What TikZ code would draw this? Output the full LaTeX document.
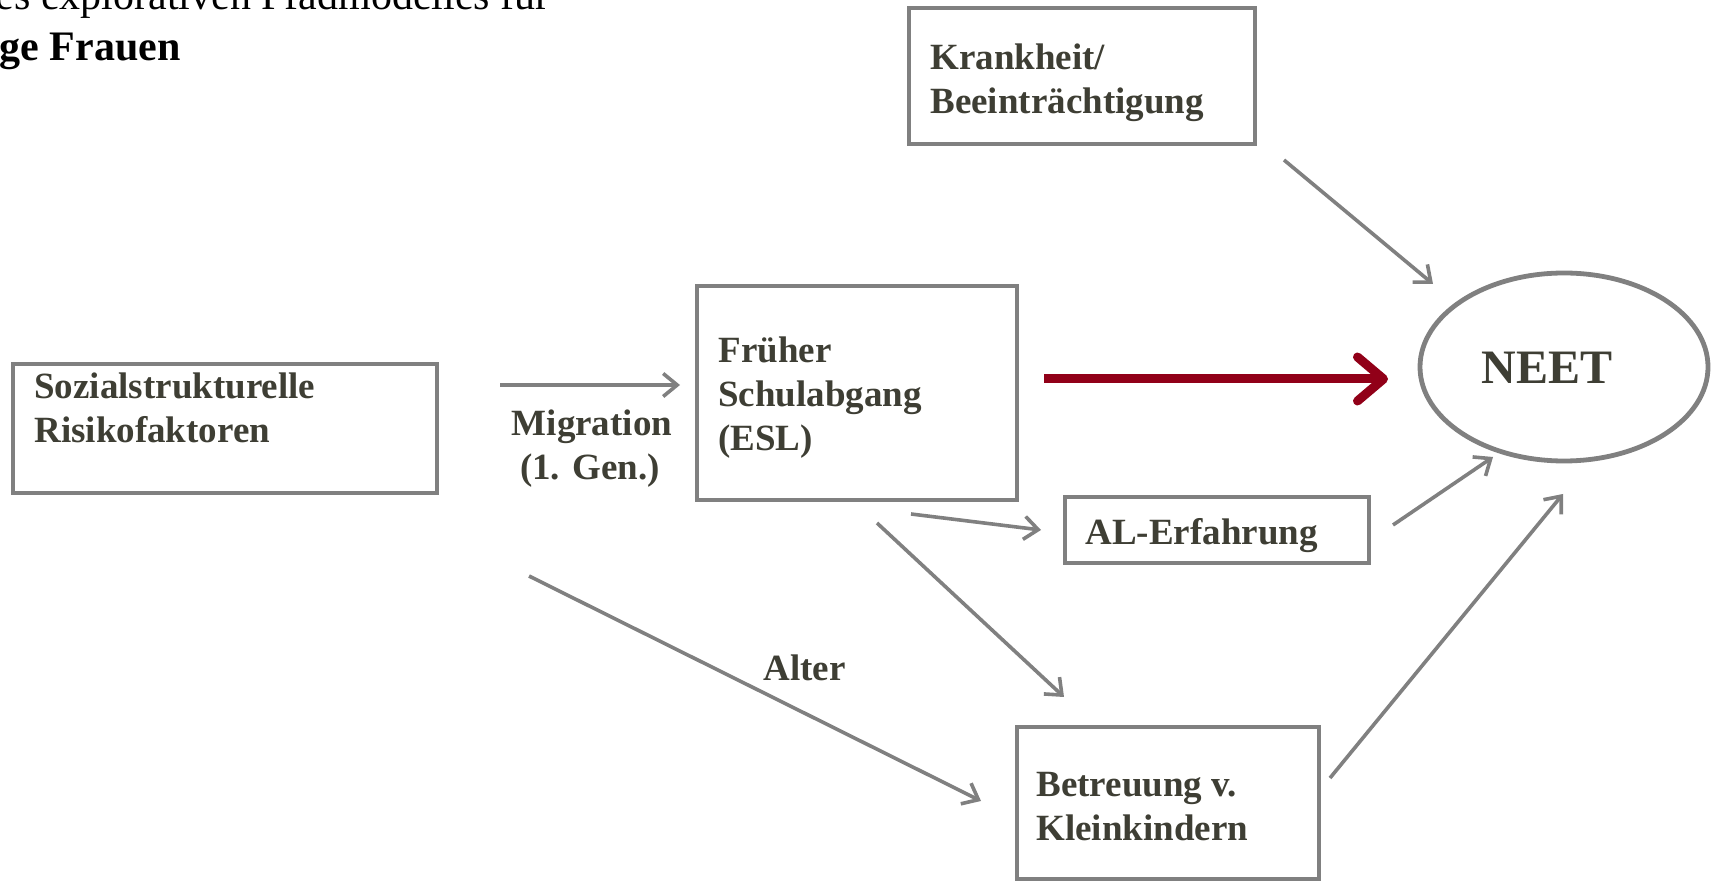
\documentclass[tikz,border=0pt]{standalone}
\usepackage{fontspec}
\setmainfont{Liberation Serif}
\usetikzlibrary{arrows.meta,shapes.geometric}
\definecolor{boxgray}{RGB}{128,128,128}
\definecolor{txt}{RGB}{62,62,52}
\definecolor{dred}{RGB}{145,0,24}
\tikzset{
  box/.style={draw=boxgray, line width=2.4pt, rectangle, inner sep=0pt},
  btxt/.style={anchor=base west, inner sep=0pt, text=txt, font=\fontsize{18.5}{22}\selectfont\bfseries, align=left},
  ctxt/.style={anchor=base, inner sep=0pt, text=txt, font=\fontsize{18.5}{22}\selectfont\bfseries},
  conn/.style={draw=boxgray, line width=1.8pt, -{Straight Barb[length=7pt,width=11.5pt]}},
  mainarrow/.style={draw=dred, line width=4.5pt, -{Straight Barb[length=13pt,width=22pt,line cap=round,line join=round]}},
}
\begin{document}
\begin{tikzpicture}[x=0.5pt,y=-0.5pt]
\useasboundingbox (0,0) rectangle (1714,881);
\fill[white] (0,0) rectangle (1714,881);

% title (cut off)
\node[anchor=base east, inner sep=0pt, font=\fontsize{21}{25}\selectfont] (title1) at (550,10) {es explorativen Pfadmodelles für};
\node[anchor=base east, inner sep=0pt, font=\fontsize{21}{25}\selectfont\bfseries] (title2) at (181,61) {ge Frauen};

% boxes (sizes in pt = px/2)
\node[box, minimum width=173pt, minimum height=68pt] (krank) at (1082,76) {};
\node[box, minimum width=160pt, minimum height=107pt] (frueh) at (857,393) {};
\node[box, minimum width=212pt, minimum height=64.5pt] (soz) at (225,428.5) {};
\node[box, minimum width=152pt, minimum height=33pt] (al) at (1217,530) {};
\node[box, minimum width=151pt, minimum height=76pt] (betr) at (1168,803) {};
\node[draw=boxgray, line width=2.4pt, ellipse, minimum width=144pt, minimum height=94pt, inner sep=0pt] (neet) at (1564,367) {};

% texts (base = baseline of last line)
\node[btxt] (krankt) at (930,114) {Krankheit/\\Beeinträchtigung};
\node[btxt] (fruehl) at (718,451) {Früher\\Schulabgang\\(ESL)};
\node[btxt] (sozt) at (34,443) {Sozialstrukturelle\\Risikofaktoren};
\node[btxt] (alt) at (1085,545) {AL-Erfahrung};
\node[btxt] (betrt) at (1036,840) {Betreuung v.\\Kleinkindern};
\node[anchor=base, inner sep=0pt, text=txt, font=\fontsize{24}{28}\selectfont\bfseries] (neett) at (1547,384) {NEET};
\node[ctxt] (mig) at (592,436) {Migration};
\node[ctxt] (gen) at (590,480) {(1. Gen.)};
\node[btxt] (alter) at (763,681) {Alter};

% connector end points
\coordinate (m1) at (500,385);
\coordinate (m2) at (680,385);
\coordinate (r1) at (1044,379);
\coordinate (r2) at (1388,379);
\coordinate (k1) at (1284,160);
\coordinate (k2) at (1433,284);
\coordinate (f1) at (911,514);
\coordinate (f2) at (1041,530);
\coordinate (f3) at (877,523);
\coordinate (f4) at (1064,697);
\coordinate (s1) at (529,576);
\coordinate (s2) at (981,801);
\coordinate (a1) at (1393,525);
\coordinate (a2) at (1493,457);
\coordinate (b1) at (1330,778);
\coordinate (b2) at (1563,494);

\draw[conn] (m1) -- (m2);
\draw[mainarrow] (r1) -- (r2);
\draw[conn] (k1) -- (k2);
\draw[conn] (f1) -- (f2);
\draw[conn] (f3) -- (f4);
\draw[conn] (s1) -- (s2);
\draw[conn] (a1) -- (a2);
\draw[conn] (b1) -- (b2);
\end{tikzpicture}
\end{document}
